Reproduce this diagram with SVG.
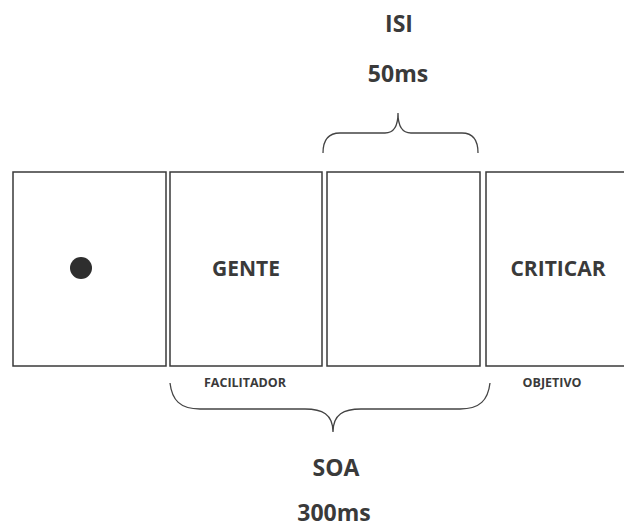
<svg xmlns="http://www.w3.org/2000/svg" width="624" height="529" viewBox="0 0 624 529">
<style>
.box{fill:#fff;stroke:#3a3a3a;stroke-width:1.5}
.t{font-family:"Open Sans","Liberation Sans",sans-serif;font-weight:700;fill:#3a3a3a;text-anchor:middle}
.br{fill:none;stroke:#444;stroke-width:1.3}
.big{font-size:23px}
.mid{font-size:21px}
.sm{font-size:12.5px}
</style>
<rect width="624" height="529" fill="#fff"/>
<g id="fixation">
<rect class="box" x="13" y="172" width="153" height="194"/>
<circle cx="81" cy="268" r="11" fill="#2e2e2e"/>
</g>
<g id="gente">
<rect class="box" x="170" y="172" width="152" height="194"/>
<text class="t mid" x="246" y="276">GENTE</text>
<text class="t sm" x="245" y="387">FACILITADOR</text>
</g>
<g id="blank">
<rect class="box" x="327" y="172" width="153" height="194"/>
</g>
<g id="criticar">
<rect class="box" x="486" y="172" width="142" height="194"/>
<text class="t mid" x="558" y="276">CRITICAR</text>
<text class="t sm" x="552" y="387">OBJETIVO</text>
</g>
<g id="connectors">
<path class="br" d="M323,153 C323,140 328,133 340,133 L385,133 C393,133 398,128 398,113 C398,128 403,133 411,133 L462,133 C473,133 478,140 478,153"/>
<path class="br" d="M170,383 C172,400 180,409 200,409 L305,409 C322,409 333,414 333,432 C333,414 344,409 361,409 L460,409 C480,409 488,400 490,383"/>
</g>
<g id="labels">
<text class="t big" x="399" y="32">ISI</text>
<text class="t big" x="398" y="82">50ms</text>
<text class="t big" x="336" y="476">SOA</text>
<text class="t big" x="334" y="521">300ms</text>
</g>
</svg>
